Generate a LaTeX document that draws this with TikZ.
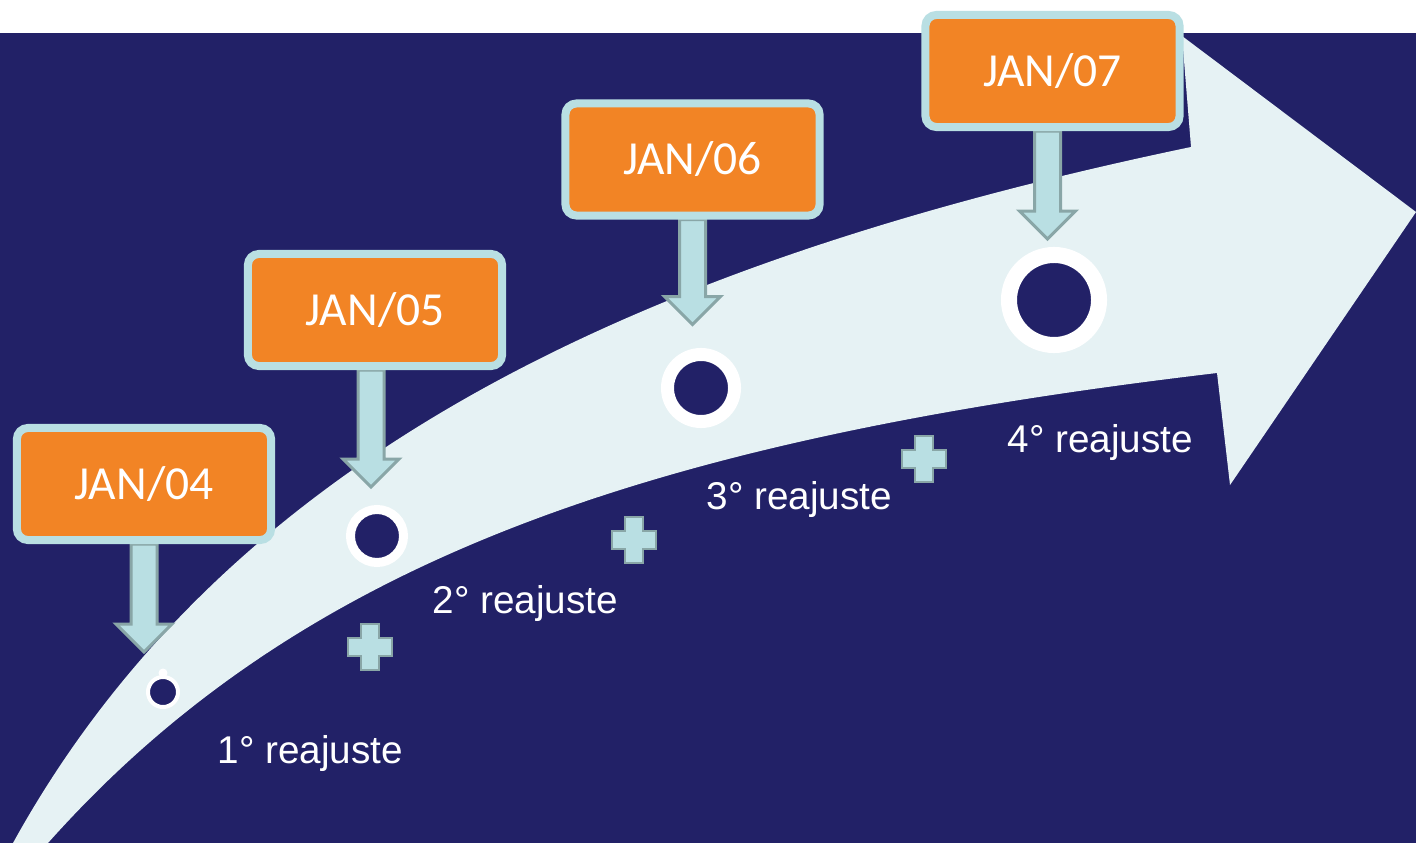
\documentclass[tikz,border=0pt]{standalone}
\usepackage{fontspec}
\setmainfont{Liberation Sans}
\newfontfamily\datefont{Carlito}
\usetikzlibrary{calc}

\definecolor{navybg}{RGB}{34,33,103}
\definecolor{boxorange}{RGB}{242,132,37}
\definecolor{boxframe}{RGB}{185,223,227}
\definecolor{arrowedge}{RGB}{137,166,167}
\definecolor{trackfill}{RGB}{230,242,244}

\pgfdeclarelayer{backdrop}
\pgfdeclarelayer{links}
\pgfsetlayers{backdrop,links,main}

% block arrow hanging below a date box: #1 box, #2 length, #3 x offset
\newcommand{\pointer}[3]{%
  \draw[pointer] ($(#1.south)+(#3-13,0)$) -- ++(0,#2-28) -- ++(-15,0) -- ++(28,28)
    -- ++(28,-28) -- ++(-15,0) -- ++(0,28-#2) -- cycle;}
% plus sign centred on #1
\newcommand{\plusmark}[1]{%
  \draw[plusmark] ($(#1)+(-9,-23)$) -- ++(18,0) -- ++(0,14) -- ++(13,0) -- ++(0,18)
    -- ++(-13,0) -- ++(0,14) -- ++(-18,0) -- ++(0,-14) -- ++(-13,0) -- ++(0,-18)
    -- ++(13,0) -- cycle;}

\begin{document}
\begin{tikzpicture}[x=0.01cm,y=-0.01cm,
        datebox/.style={draw=boxframe,fill=boxorange,line width=0.08cm,rounded corners=0.11cm,
            minimum width=2.54cm,minimum height=1.12cm,text=white,
            font=\datefont\fontsize{13.5}{16}\selectfont},
        pointer/.style={fill=boxframe,draw=arrowedge,line width=0.03cm},
        plusmark/.style={fill=boxframe,draw=arrowedge,line width=0.025cm},
        ring/.style={circle,fill=navybg,draw=white,inner sep=0pt},
        stepnote/.style={text=white,anchor=base west,inner sep=0pt,
            font=\fontsize{11}{13}\selectfont}]
    \useasboundingbox (0,0) rectangle (1416,843);
    % backdrop and the rising arrow
    \begin{pgfonlayer}{backdrop}
        \fill[white] (0,0) rectangle (1416,843);
        \fill[navybg] (0,33) rectangle (1416,843);
        \fill[trackfill] (13,843) .. controls (230,450) and (650,260) .. (1191,147)
            -- (1182,36) -- (1416,212) -- (1230,485) -- (1217,373)
            .. controls (650,440) and (300,560) .. (48,843) -- cycle;
    \end{pgfonlayer}
    % date boxes
    \node[datebox] (jan04) at (144,484) {JAN/04};
    \node[datebox] (jan05) at (375,310) {JAN/05};
    \node[datebox] (jan06) at (692.5,159.5) {JAN/06};
    \node[datebox] (jan07) at (1052.5,71) {JAN/07};
    \begin{pgfonlayer}{links}
        \pointer{jan04}{108}{0}
        \pointer{jan05}{117}{-4}
        \pointer{jan06}{105}{0}
        \pointer{jan07}{108}{-5}
    \end{pgfonlayer}
    % markers on the arrow
    \fill[white] (163,673) circle (0.045cm);
    \node[ring,minimum size=0.30cm,line width=0.04cm] (r1) at (163,692) {};
    \node[ring,minimum size=0.53cm,line width=0.09cm] (r2) at (377,536) {};
    \node[ring,minimum size=0.67cm,line width=0.13cm] (r3) at (701,388) {};
    \node[ring,minimum size=0.90cm,line width=0.16cm] (r4) at (1054,300) {};
    % plus signs
    \coordinate (p1) at (370,647);
    \coordinate (p2) at (634,540);
    \coordinate (p3) at (924,459);
    \plusmark{p1}
    \plusmark{p2}
    \plusmark{p3}
    % step labels
    \node[stepnote] (s1) at (217,763) {1° reajuste};
    \node[stepnote] (s2) at (432,613) {2° reajuste};
    \node[stepnote] (s3) at (706,509) {3° reajuste};
    \node[stepnote] (s4) at (1007,452) {4° reajuste};
\end{tikzpicture}
\end{document}
